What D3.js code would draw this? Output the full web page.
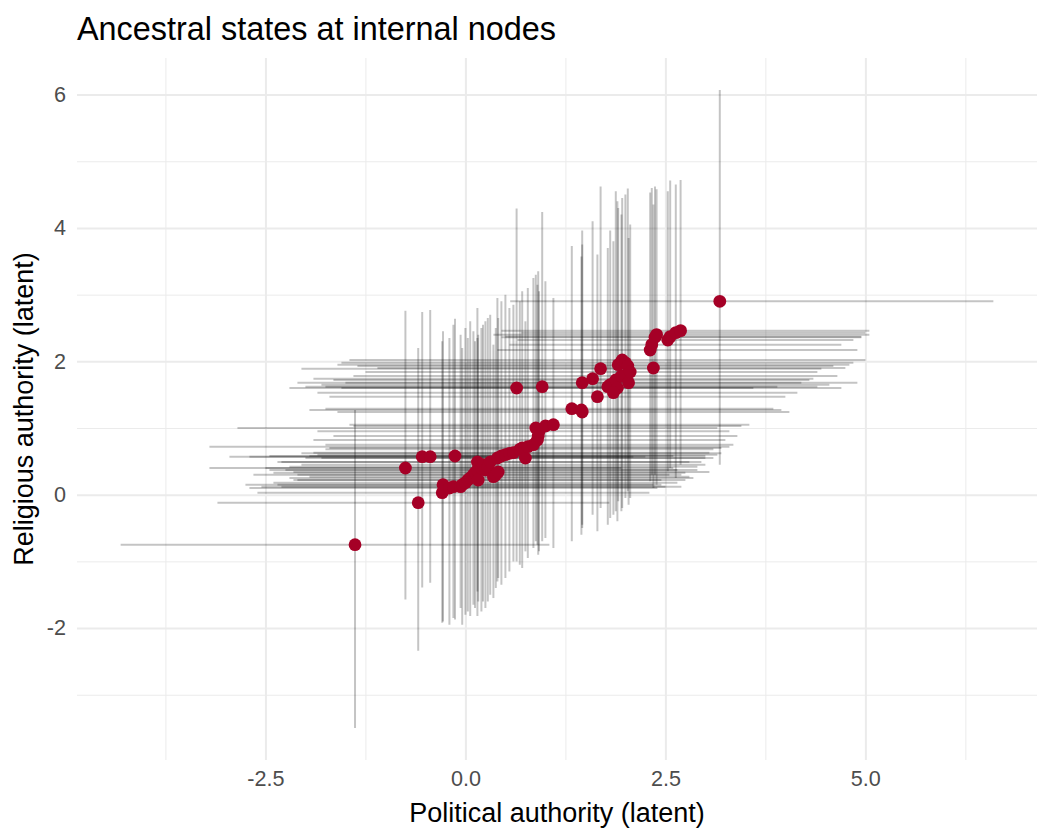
<!DOCTYPE html>
<html>
<head>
<meta charset="utf-8">
<script src="https://cdn.jsdelivr.net/npm/d3@7"></script>
<style>
  body { margin: 0; background: #ffffff; }
</style>
</head>
<body>
<svg id="chart" width="1050" height="840"></svg>
<script>
// Posterior ancestral states: [pol, rel, polLow, polHigh, relLow, relHigh]
const nodeStates = [
    [-1.38, -0.75, -4.31, 1.05, -3.50, 1.27],
    [-0.75, 0.40, -3.20, 1.95, -1.57, 2.76],
    [-0.59, -0.12, -3.10, 1.80, -2.34, 2.20],
    [-0.54, 0.57, -2.95, 2.10, -1.39, 2.74],
    [-0.44, 0.57, -2.70, 2.25, -1.32, 2.77],
    [-0.13, 0.58, -2.45, 2.60, -1.87, 2.64],
    [-0.29, 0.03, -2.60, 2.30, -1.92, 2.30],
    [-0.28, 0.15, -2.35, 2.45, -1.90, 2.45],
    [-0.20, 0.10, -2.70, 2.40, -1.95, 2.35],
    [-0.15, 0.12, -2.55, 2.50, -1.85, 2.55],
    [-0.06, 0.12, -2.30, 2.70, -1.70, 2.40],
    [-0.04, 0.15, -2.75, 2.35, -1.95, 2.20],
    [0.00, 0.18, -2.40, 2.65, -1.80, 2.50],
    [0.03, 0.22, -2.15, 2.45, -1.75, 2.35],
    [0.06, 0.25, -2.20, 2.85, -1.82, 2.60],
    [0.10, 0.30, -2.65, 2.55, -1.65, 2.45],
    [0.12, 0.33, -2.40, 2.75, -1.70, 2.30],
    [0.15, 0.37, -2.25, 2.90, -1.82, 2.35],
    [0.16, 0.22, -2.10, 2.75, -1.60, 2.40],
    [0.15, 0.49, -2.35, 2.80, -1.45, 2.80],
    [0.20, 0.40, -2.50, 2.60, -1.75, 2.50],
    [0.22, 0.45, -2.05, 3.00, -1.60, 2.55],
    [0.25, 0.37, -2.45, 2.65, -1.70, 2.60],
    [0.28, 0.42, -2.20, 2.90, -1.60, 2.65],
    [0.31, 0.49, -2.30, 2.95, -1.50, 2.70],
    [0.35, 0.27, -1.95, 2.80, -1.55, 2.25],
    [0.38, 0.30, -2.10, 2.70, -1.40, 2.50],
    [0.41, 0.34, -2.15, 3.05, -1.25, 2.65],
    [0.40, 0.55, -2.00, 3.10, -1.30, 2.95],
    [0.45, 0.58, -1.95, 3.00, -1.35, 2.90],
    [0.50, 0.60, -1.85, 3.15, -1.25, 3.00],
    [0.55, 0.62, -2.05, 3.20, -1.15, 2.80],
    [0.60, 0.63, -1.90, 3.05, -1.00, 2.85],
    [0.68, 0.68, -1.75, 3.10, -1.05, 2.90],
    [0.71, 0.70, -1.70, 3.20, -1.10, 3.05],
    [0.75, 0.55, -1.80, 3.00, -0.85, 2.60],
    [0.78, 0.72, -3.20, 3.30, -0.95, 3.10],
    [0.85, 0.75, -1.75, 3.35, -0.80, 3.25],
    [0.90, 0.82, -1.90, 3.25, -0.75, 3.15],
    [0.91, 0.88, -1.65, 3.40, -0.90, 3.35],
    [0.92, 0.95, -1.85, 3.30, -0.85, 3.05],
    [0.88, 1.00, -2.85, 3.15, -0.70, 3.30],
    [1.00, 1.03, -1.40, 3.45, -0.65, 3.20],
    [1.10, 1.05, -1.45, 3.55, -0.80, 2.95],
    [0.64, 1.60, -2.20, 3.60, -1.00, 4.29],
    [0.96, 1.62, -2.00, 3.90, -0.70, 4.24],
    [1.33, 1.29, -1.75, 3.85, -0.70, 3.73],
    [1.46, 1.24, -1.60, 4.05, -0.50, 3.75],
    [1.45, 1.27, -1.95, 3.95, -0.60, 3.57],
    [1.46, 1.68, -2.10, 4.20, -0.45, 3.96],
    [1.59, 1.74, -1.90, 4.35, -0.30, 4.10],
    [1.65, 1.47, -1.70, 4.00, -0.55, 3.60],
    [1.69, 1.89, -2.05, 4.45, -0.20, 4.62],
    [1.78, 1.62, -1.75, 4.40, -0.45, 3.70],
    [1.81, 1.65, -1.80, 4.55, -0.35, 3.96],
    [1.88, 1.72, -1.65, 4.30, -0.25, 4.55],
    [1.90, 1.60, -1.55, 4.70, -0.40, 4.40],
    [1.85, 1.53, -1.85, 4.15, -0.30, 3.80],
    [1.95, 1.78, -1.40, 4.65, -0.25, 4.20],
    [2.04, 1.68, -1.50, 4.90, -0.15, 3.85],
    [1.91, 1.95, -1.60, 4.80, -0.10, 4.30],
    [1.96, 2.02, -1.45, 5.00, -0.20, 4.45],
    [2.00, 1.98, -1.55, 4.85, -0.05, 4.50],
    [2.03, 1.93, -1.35, 4.60, 0.05, 4.59],
    [2.06, 1.84, -1.25, 4.40, -0.05, 4.05],
    [2.35, 1.90, -1.10, 4.75, 0.10, 4.35],
    [2.31, 2.17, 0.40, 4.90, 0.20, 4.53],
    [2.33, 2.25, 0.55, 4.70, 0.30, 4.60],
    [2.37, 2.36, 0.45, 4.95, 0.30, 4.62],
    [2.39, 2.40, 0.35, 5.05, 0.15, 4.58],
    [2.53, 2.32, 0.65, 4.85, 0.35, 4.55],
    [2.56, 2.37, 0.50, 4.95, 0.40, 4.71],
    [2.63, 2.43, 0.70, 5.00, 0.25, 4.65],
    [2.69, 2.46, 0.45, 5.05, 0.45, 4.72],
    [3.18, 2.90, 0.56, 6.60, 0.45, 6.07]
];

// Axis ticks
const xMajorTicks = [-2.5, 0, 2.5, 5];
const xMinorTicks = [-3.75, -1.25, 1.25, 3.75, 6.25];
const yMajorTicks = [-2, 0, 2, 4, 6];
const yMinorTicks = [-3, -1, 1, 3, 5];
const xTickLabels = ["-2.5", "0.0", "2.5", "5.0"];
const yTickLabels = ["-2", "0", "2", "4", "6"];

const chartTitle = "Ancestral states at internal nodes";
const xTitle = "Political authority (latent)";
const yTitle = "Religious authority (latent)";

const svg = d3.select("#chart");
const font = "'Liberation Sans', Arial, Helvetica, sans-serif";

// panel box
const panelLeft = 77, panelRight = 1037, panelTop = 58, panelBottom = 760;

// ggplot style 5% expansion around the interval ranges
const xMin = d3.min(nodeStates, d => d[2]), xMax = d3.max(nodeStates, d => d[3]);
const yMin = d3.min(nodeStates, d => d[4]), yMax = d3.max(nodeStates, d => d[5]);
const xPad = (xMax - xMin) * 0.05, yPad = (yMax - yMin) * 0.05;

const x = d3.scaleLinear().domain([xMin - xPad, xMax + xPad]).range([panelLeft, panelRight]);
const y = d3.scaleLinear().domain([yMin - yPad, yMax + yPad]).range([panelBottom, panelTop]);

// grid lines, minor first then major
function drawGrid(xTicks, yTicks, width) {
    svg.append("g")
        .attr("transform", `translate(0,${panelBottom})`)
        .call(d3.axisBottom(x).tickValues(xTicks).tickSize(-(panelBottom - panelTop)).tickFormat(""))
        .call(g => g.select(".domain").remove())
        .call(g => g.selectAll("line").attr("stroke", "#ebebeb").attr("stroke-width", width));

    svg.append("g")
        .attr("transform", `translate(${panelLeft},0)`)
        .call(d3.axisLeft(y).tickValues(yTicks).tickSize(-(panelRight - panelLeft)).tickFormat(""))
        .call(g => g.select(".domain").remove())
        .call(g => g.selectAll("line").attr("stroke", "#ebebeb").attr("stroke-width", width));
}
drawGrid(xMinorTicks, yMinorTicks, 1);
drawGrid(xMajorTicks, yMajorTicks, 2);

// horizontal intervals (political)
svg.append("g")
    .selectAll("line")
    .data(nodeStates)
    .enter()
    .append("line")
    .attr("x1", d => x(d[2]))
    .attr("x2", d => x(d[3]))
    .attr("y1", d => y(d[1]))
    .attr("y2", d => y(d[1]))
    .attr("stroke", "#000")
    .attr("stroke-opacity", 0.23)
    .attr("stroke-width", 2);

// vertical intervals (religious)
svg.append("g")
    .selectAll("line")
    .data(nodeStates)
    .enter()
    .append("line")
    .attr("x1", d => x(d[0]))
    .attr("x2", d => x(d[0]))
    .attr("y1", d => y(d[4]))
    .attr("y2", d => y(d[5]))
    .attr("stroke", "#000")
    .attr("stroke-opacity", 0.23)
    .attr("stroke-width", 2);

// posterior means
svg.append("g")
    .selectAll("circle")
    .data(nodeStates)
    .enter()
    .append("circle")
    .attr("cx", d => x(d[0]))
    .attr("cy", d => y(d[1]))
    .attr("r", 6.4)
    .attr("fill", "#a50026");

// tick labels
svg.append("g")
    .attr("transform", `translate(0,${panelBottom})`)
    .call(d3.axisBottom(x).tickValues(xMajorTicks).tickSize(0).tickPadding(11)
        .tickFormat((d, i) => xTickLabels[i]))
    .call(g => g.select(".domain").remove())
    .call(g => g.selectAll("text")
        .attr("font-family", font)
        .attr("font-size", "21.6px")
        .attr("fill", "#4d4d4d"));

svg.append("g")
    .attr("transform", `translate(${panelLeft},0)`)
    .call(d3.axisLeft(y).tickValues(yMajorTicks).tickSize(0).tickPadding(11)
        .tickFormat((d, i) => yTickLabels[i]))
    .call(g => g.select(".domain").remove())
    .call(g => g.selectAll("text")
        .attr("font-family", font)
        .attr("font-size", "21.6px")
        .attr("fill", "#4d4d4d"));

// TITLE
svg.append("text")
    .attr("x", panelLeft)
    .attr("y", 40)
    .attr("font-family", font)
    .attr("font-size", "32.4px")
    .attr("fill", "#000")
    .text(chartTitle);

// x axis title
svg.append("text")
    .attr("x", (panelLeft + panelRight) / 2)
    .attr("y", 822)
    .attr("text-anchor", "middle")
    .attr("font-family", font)
    .attr("font-size", "27px")
    .attr("fill", "#000")
    .text(xTitle);

// y axis title
svg.append("text")
    .attr("transform", `translate(33,${(panelTop + panelBottom) / 2}) rotate(-90)`)
    .attr("text-anchor", "middle")
    .attr("font-family", font)
    .attr("font-size", "27px")
    .attr("fill", "#000")
    .text(yTitle);
</script>
</body>
</html>
